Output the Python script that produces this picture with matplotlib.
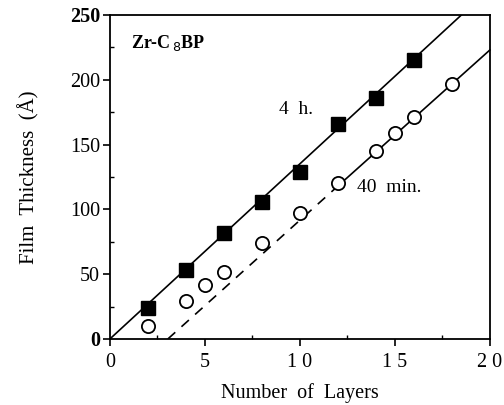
import matplotlib
matplotlib.use("Agg")
import matplotlib.pyplot as plt
import numpy as np
from matplotlib.ticker import MultipleLocator

plt.rcParams['font.family'] = ['Liberation Serif', 'DejaVu Serif']

# Data
layers_4h = [2, 4, 6, 8, 10, 12, 14, 16]
thick_4h = [24, 53, 82, 106, 129, 166, 186, 215]
layers_40m = [2, 4, 5, 6, 8, 10, 12, 14, 15, 16, 18]
thick_40m = [10, 29, 42, 52, 74, 97, 120, 145, 159, 171, 197]

# Fit lines
fit4h_x = [0, 18.5]
fit4h_y = [0, 250]
fit40_dash_x = [3.05, 12]
fit40_dash_y = [0, 118]
fit40_solid_x = [12, 20]
fit40_solid_y = [118, 223]

xticks = [0, 5, 10, 15, 20]
xticklabels = ['0', '5', '1 0', '1 5', '2 0']
yticks = [0, 50, 100, 150, 200, 250]

fig = plt.figure(figsize=(5.04, 4.05), dpi=100)
ax = fig.add_axes([0.218, 0.163, 0.754, 0.800])

ax.plot(fit4h_x, fit4h_y, color='black', lw=1.2, zorder=2)
ax.plot(fit40_dash_x, fit40_dash_y, color='black', lw=1.2, ls=(0, (6, 5)), zorder=2)
ax.plot(fit40_solid_x, fit40_solid_y, color='black', lw=1.2, zorder=2, clip_on=False)
ax.plot(layers_4h, thick_4h, 's', color='black', ms=9.5, zorder=3)
ax.plot(layers_40m, thick_40m, 'o', mfc='white', mec='black', mew=1.3, ms=9.5, zorder=3)

ax.set_xlim(0, 20)
ax.set_ylim(0, 250)
ax.set_xticks(xticks)
ax.set_xticklabels(xticklabels)
ax.set_yticks(yticks)
ax.xaxis.set_minor_locator(MultipleLocator(2.5))
ax.yaxis.set_minor_locator(MultipleLocator(25))
ax.tick_params(which='major', direction='out', length=5, width=1.2, labelsize=14.5)
ax.tick_params(which='minor', direction='in', length=3, width=1)
ax.tick_params(axis='y', which='major', pad=2)
ax.tick_params(axis='x', which='major', pad=5)
for lab in ax.get_yticklabels():
    lab.set_fontweight('bold' if lab.get_text() in ('0', '250') else 'normal')
for s in ax.spines.values():
    s.set_linewidth(1.3)

ax.text(1.1, 228, r'Zr-C$_{\,8}$BP', fontsize=13, fontweight='bold', va='center', ha='left')
ax.text(8.9, 177, '4  h.', fontsize=14, va='center', ha='left')
ax.text(13.0, 117, '40  min.', fontsize=14, va='center', ha='left')

ax.set_xlabel('Number  of  Layers', fontsize=14.5, labelpad=8)
ax.set_ylabel('Film  Thickness  (Å)', fontsize=15, labelpad=22)

fig.savefig('out.png', dpi=100)
